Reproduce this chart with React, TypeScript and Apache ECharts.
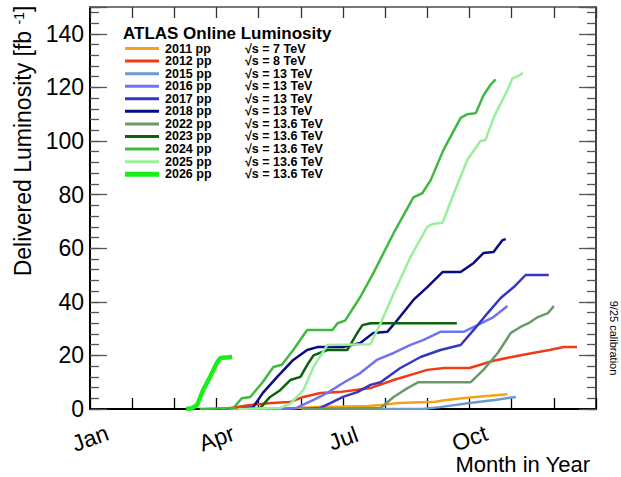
import React, { useEffect, useRef } from "react";
import * as echarts from "echarts";

// ---------- data (month since Jan 1, delivered luminosity in fb^-1) ----------
const years = ["2011", "2012", "2015", "2016", "2017", "2018", "2022", "2023", "2024", "2025", "2026"];
const energies = ["7", "8", "13", "13", "13", "13", "13.6", "13.6", "13.6", "13.6", "13.6"];

const lumi2011 = [[3.3, 0], [4.0, 0.1], [4.8, 0.3], [5.3, 0.7], [6.0, 0.9], [6.6, 1.1], [7.0, 1.6], [7.3, 2.2], [8.2, 2.7], [8.4, 3.3], [9.0, 4.3], [9.9, 5.5]];
const lumi2012 = [[3.1, 0], [3.3, 0.3], [3.8, 1.5], [4.3, 2.2], [4.75, 2.6], [5.06, 4.5], [5.46, 6.0], [5.9, 6.3], [6.35, 7.2], [6.65, 7.8], [7.2, 10.8], [8.0, 14.6], [8.4, 15.3], [9.0, 15.3], [9.57, 18.0], [10.0, 19.4], [10.5, 20.9], [10.9, 22.0], [11.24, 23.1], [11.55, 23.1]];
const lumi2015 = [[5.3, 0], [7.9, 0], [8.3, 0.7], [9.0, 2.2], [9.6, 3.4], [10.1, 4.5]];
const lumi2016 = [[4.3, 0], [4.9, 0.4], [5.3, 3.4], [5.63, 6.0], [6.0, 9.7], [6.41, 13.4], [6.8, 18.3], [7.2, 20.9], [7.6, 23.9], [7.9, 25.7], [8.31, 28.8], [8.86, 28.8], [9.19, 31.3], [9.57, 34.3], [9.9, 38.4]];
const lumi2017 = [[5.0, 0], [5.46, 0.4], [5.7, 2.2], [6.0, 4.5], [6.34, 6.3], [6.65, 9.0], [6.89, 10.0], [7.36, 15.3], [7.84, 19.4], [8.31, 22.0], [8.79, 23.9], [9.1, 29.5], [9.43, 35.8], [9.74, 41.4], [10.05, 45.5], [10.33, 50.0], [10.88, 50.0]];
const lumi2018 = [[3.5, 0], [3.87, 0.7], [4.1, 6.0], [4.44, 12.0], [4.82, 18.3], [5.15, 22.0], [5.39, 23.1], [6.0, 23.1], [6.41, 24.6], [6.72, 28.4], [7.05, 28.8], [7.29, 33.2], [7.67, 40.7], [8.0, 45.5], [8.36, 51.1], [8.79, 51.1], [9.1, 54.5], [9.33, 58.2], [9.57, 58.6], [9.78, 63.0], [9.86, 63.4]];
const lumi2022 = [[5.0, 0], [6.89, 0.4], [7.2, 4.5], [7.53, 7.8], [7.79, 10.0], [9.03, 10.0], [9.33, 14.6], [9.67, 20.9], [9.98, 28.4], [10.21, 30.6], [10.4, 32.0], [10.62, 34.3], [10.86, 35.8], [11.0, 38.4]];
const lumi2023 = [[3.7, 0], [4.04, 0.4], [4.27, 4.5], [4.51, 7.0], [4.75, 10.8], [4.99, 12.0], [5.15, 16.4], [5.3, 20.0], [5.63, 22.0], [6.1, 22.0], [6.34, 28.4], [6.46, 31.3], [6.65, 32.0], [8.7, 32.0]];
const lumi2024 = [[2.6, 0], [3.4, 0.4], [3.6, 4.0], [3.8, 4.5], [4.08, 9.7], [4.35, 15.7], [4.55, 16.5], [4.82, 22.0], [5.15, 29.5], [5.75, 29.5], [5.87, 32.0], [6.05, 33.0], [6.41, 41.8], [6.72, 50.7], [7.2, 65.6], [7.67, 79.0], [7.88, 80.5], [8.08, 85.4], [8.38, 96.6], [8.79, 108.6], [8.95, 110.0], [9.15, 110.4], [9.33, 117.0], [9.5, 121.0], [9.62, 123.0]];
const lumi2025 = [[3.5, 0], [4.51, 0.4], [4.75, 2.0], [5.06, 7.0], [5.3, 15.7], [5.63, 23.9], [6.65, 24.2], [6.89, 32.0], [7.2, 43.0], [7.6, 56.7], [8.0, 68.0], [8.12, 69.0], [8.36, 69.5], [8.63, 80.5], [8.95, 93.0], [9.26, 100.0], [9.38, 100.4], [9.58, 109.0], [9.9, 119.0], [10.02, 123.4], [10.2, 124.6], [10.26, 125.5]];
const lumi2026 = [[2.28, 0], [2.42, 0.3], [2.54, 1.5], [2.68, 7.0], [2.85, 12.0], [3.02, 17.5], [3.09, 19.0], [3.37, 19.4]];

const monthTicks = [0, 3, 6, 9];
const monthNames = ["Jan", "Apr", "Jul", "Oct"];

// ---------- styles ----------
const colors = ["#f7a11a", "#ef3b16", "#6a9bd0", "#7272f0", "#3535c4", "#0a0a86", "#6a9a6a", "#0a620a", "#40b940", "#9aef9a", "#19f019"];
const lineWidths = [2.5, 2.5, 2.5, 2.5, 2.5, 2.5, 2.5, 2.5, 2.5, 2.5, 4.5];
const FONT = "'Liberation Sans', Arial, Helvetica, sans-serif";

export default function App() {
  const ref = useRef<HTMLDivElement>(null);

  useEffect(() => {
    const chart = echarts.init(ref.current!, null, { renderer: "svg" });
    const allData = [lumi2011, lumi2012, lumi2015, lumi2016, lumi2017, lumi2018, lumi2022, lumi2023, lumi2024, lumi2025, lumi2026];

    const yAxisDef = (position: string, interval: number, len: number, lineColor: string, withLabels: boolean) => ({
      type: "value",
      position,
      min: 0,
      max: 150,
      interval,
      axisLine: { show: true, onZero: false, lineStyle: { color: lineColor, width: 2 } },
      axisTick: { show: true, inside: true, length: len, lineStyle: { color: "#555", width: 1.3 } },
      axisLabel: {
        show: withLabels,
        margin: 6,
        fontFamily: FONT,
        fontSize: 23,
        color: "#000",
        formatter: (v: number) => (v % 20 === 0 ? String(v) : ""),
      },
      splitLine: { show: false },
    });

    const legendGraphics: any[] = [
      {
        type: "text",
        x: 123,
        y: 33,
        style: { text: "ATLAS Online Luminosity", font: `bold 17px ${FONT}`, fill: "#000", verticalAlign: "middle" },
      },
    ];
    years.forEach((yr, i) => {
      const yy = 48.5 + i * 12.57;
      legendGraphics.push({
        type: "line",
        shape: { x1: 125, y1: yy, x2: 159, y2: yy },
        style: { stroke: colors[i], lineWidth: i === years.length - 1 ? 5 : 3 },
      });
      legendGraphics.push({
        type: "text",
        x: 165,
        y: yy,
        style: { text: `${yr} pp`, font: `bold 12.5px ${FONT}`, fill: "#000", verticalAlign: "middle" },
      });
      legendGraphics.push({
        type: "text",
        x: 245,
        y: yy,
        style: { text: `√s = ${energies[i]} TeV`, font: `bold 12.5px ${FONT}`, fill: "#000", verticalAlign: "middle" },
      });
    });
    legendGraphics.push({
      type: "text",
      x: 614,
      y: 338,
      rotation: -Math.PI / 2,
      style: { text: "9/25 calibration", font: `11px ${FONT}`, fill: "#000", align: "center", verticalAlign: "middle" },
    });
    legendGraphics.push({
      type: "text",
      x: 590,
      y: 464,
      style: { text: "Month in Year", font: `22px ${FONT}`, fill: "#000", align: "right", verticalAlign: "middle" },
    });

    const option: any = {
      animation: false,
      backgroundColor: "#fff",
      grid: { left: 90, right: 25, top: 7, bottom: 68, containLabel: false },
      xAxis: [
        {
          type: "value",
          position: "bottom",
          min: 0,
          max: 12,
          interval: 1,
          axisLine: { show: true, onZero: false, lineStyle: { color: "#000", width: 2 } },
          axisTick: { show: true, inside: true, length: 11, lineStyle: { color: "#000", width: 1.3 } },
          axisLabel: {
            rotate: 20,
            align: "center",
            verticalAlign: "top",
            margin: 17,
            padding: [0, 8, 0, 0],
            fontFamily: FONT,
            fontSize: 23,
            color: "#000",
            formatter: (v: number) => {
              const k = monthTicks.indexOf(Math.round(v));
              return k >= 0 && Math.abs(v - monthTicks[k]) < 1e-6 ? monthNames[k] : "";
            },
          },
          splitLine: { show: false },
        },
        {
          type: "value",
          position: "top",
          min: 0,
          max: 12,
          interval: 1,
          axisLine: { show: true, onZero: false, lineStyle: { color: "#777", width: 2 } },
          axisTick: { show: true, inside: true, length: 11, lineStyle: { color: "#333", width: 1.3 } },
          axisLabel: { show: false },
          splitLine: { show: false },
        },
      ],
      yAxis: [
        {
          ...yAxisDef("left", 20, 17, "#000", true),
          name: "Delivered Luminosity [fb {sup|-1}]",
          nameLocation: "middle",
          nameRotate: 90,
          nameGap: 44,
          nameTextStyle: {
            fontFamily: FONT,
            fontSize: 23,
            color: "#000",
            padding: [0, 0, 0, 134],
            rich: { sup: { fontFamily: FONT, fontSize: 14, color: "#000", verticalAlign: "top", padding: [0, 0, 8, 0] } },
          },
        },
        yAxisDef("left", 4, 9, "#000", false),
        yAxisDef("right", 20, 17, "#444", false),
        yAxisDef("right", 4, 9, "#444", false),
      ],
      series: allData.map((d, i) => ({
        name: `${years[i]} pp`,
        type: "line",
        xAxisIndex: 0,
        yAxisIndex: 0,
        data: d,
        showSymbol: false,
        symbol: "none",
        lineStyle: { color: colors[i], width: lineWidths[i] },
        z: 2 + i,
      })),
      graphic: legendGraphics,
    };

    chart.setOption(option);
    return () => chart.dispose();
  }, []);

  return <div ref={ref} style={{ position: "absolute", left: 0, top: 0, width: 621, height: 477, background: "#fff" }} />;
}
